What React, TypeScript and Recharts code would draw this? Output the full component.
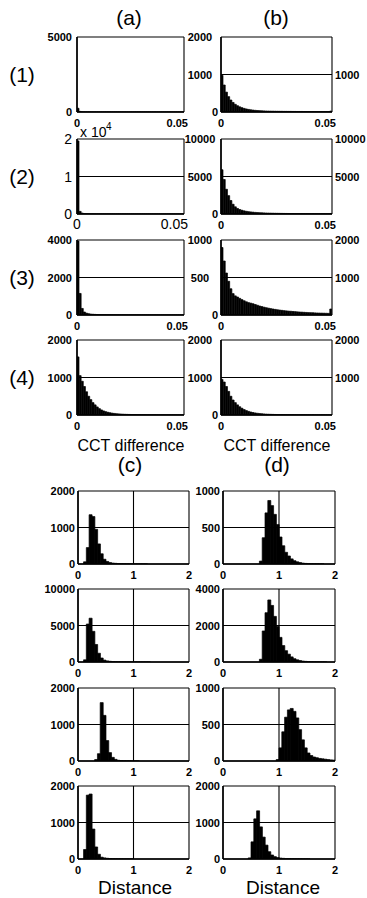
import React from 'react';
import { BarChart, Bar, XAxis, YAxis, CartesianGrid } from 'recharts';

// CCT difference histograms: 50 bins of 0.001 over [0, 0.05]
const cctA1 = [250, 40, 12, 6, 4, 3, 3, 2, 2, 2, 2, 2, 1, 1, 1, 1, 1, 1, 1, 1, 1, 1, 1, 1, 1, 1, 1, 1, 1, 1, 1, 1, 1, 1, 1, 1, 1, 1, 1, 1, 1, 1, 1, 1, 1, 1, 1, 1, 1, 1];
const cctA2 = [19500, 700, 250, 120, 80, 60, 45, 35, 30, 25, 22, 20, 18, 16, 15, 14, 13, 12, 11, 10, 10, 10, 9, 9, 9, 9, 8, 8, 8, 8, 8, 7, 7, 7, 7, 7, 7, 6, 6, 6, 6, 6, 6, 6, 6, 5, 5, 5, 5, 10];
const cctA3 = [3950, 1150, 350, 160, 100, 70, 50, 40, 32, 26, 22, 19, 17, 15, 13, 12, 11, 10, 9, 9, 8, 8, 7, 7, 7, 6, 6, 6, 6, 5, 5, 5, 5, 5, 5, 4, 4, 4, 4, 4, 4, 4, 3, 3, 3, 3, 3, 3, 3, 6];
const cctA4 = [1550, 1050, 900, 760, 620, 500, 410, 330, 270, 215, 170, 135, 108, 88, 72, 60, 50, 42, 35, 30, 26, 22, 19, 17, 15, 13, 12, 11, 10, 9, 8, 8, 7, 7, 6, 6, 6, 5, 5, 5, 5, 4, 4, 4, 4, 4, 3, 3, 3, 3];
const cctB1 = [980, 720, 530, 410, 320, 255, 205, 168, 138, 115, 96, 81, 69, 59, 51, 45, 40, 36, 32, 29, 27, 25, 23, 22, 21, 20, 19, 18, 17, 17, 16, 16, 15, 15, 14, 14, 14, 13, 13, 13, 12, 12, 12, 12, 11, 11, 11, 11, 11, 25];
const cctB2 = [5900, 4600, 3300, 2450, 1800, 1300, 960, 740, 600, 500, 420, 360, 310, 275, 245, 215, 195, 175, 160, 145, 135, 125, 115, 105, 98, 92, 86, 80, 76, 72, 68, 65, 62, 59, 56, 54, 52, 50, 48, 46, 44, 42, 41, 40, 39, 38, 37, 36, 35, 70];
const cctB3 = [900, 720, 560, 450, 350, 285, 255, 240, 222, 205, 190, 176, 165, 158, 150, 140, 130, 120, 112, 104, 97, 91, 85, 80, 75, 70, 66, 62, 58, 55, 52, 50, 47, 45, 42, 40, 38, 36, 34, 32, 31, 30, 28, 27, 26, 25, 24, 23, 22, 80];
const cctB4 = [950, 880, 760, 630, 500, 400, 330, 270, 220, 180, 145, 118, 97, 80, 66, 55, 46, 39, 33, 28, 24, 21, 18, 16, 14, 13, 12, 11, 10, 9, 9, 8, 8, 7, 7, 6, 6, 6, 5, 5, 5, 5, 4, 4, 4, 4, 3, 3, 3, 3];

// Distance histograms: 40 bins of 0.05 over [0, 2]
const distC1 = [0, 0, 60, 450, 1350, 1300, 950, 550, 280, 130, 70, 40, 25, 18, 12, 8, 6, 4, 3, 2, 2, 1, 1, 1, 1, 0, 0, 0, 0, 0, 0, 0, 0, 0, 0, 0, 0, 0, 0, 0];
const distC2 = [0, 0, 300, 5200, 6000, 4200, 2400, 1200, 550, 260, 150, 95, 60, 40, 28, 20, 14, 10, 7, 5, 4, 3, 2, 2, 1, 1, 0, 0, 0, 0, 0, 0, 0, 0, 0, 0, 0, 0, 0, 0];
const distC3 = [0, 0, 0, 0, 0, 0, 40, 200, 1600, 1250, 560, 230, 100, 45, 20, 10, 6, 4, 3, 2, 1, 1, 0, 0, 0, 0, 0, 0, 0, 0, 0, 0, 0, 0, 0, 0, 0, 0, 0, 0];
const distC4 = [0, 0, 260, 1750, 1780, 820, 330, 130, 50, 30, 20, 12, 8, 6, 4, 3, 2, 2, 1, 1, 0, 0, 0, 0, 0, 0, 0, 0, 0, 0, 0, 0, 0, 0, 0, 0, 0, 0, 0, 0];
const distD1 = [0, 0, 0, 0, 0, 0, 0, 0, 0, 0, 0, 0, 0, 40, 360, 700, 870, 800, 680, 540, 370, 250, 160, 110, 70, 45, 30, 20, 12, 8, 5, 3, 2, 2, 1, 1, 0, 0, 0, 0];
const distD2 = [0, 0, 0, 0, 0, 0, 0, 0, 0, 0, 0, 0, 0, 150, 1700, 2700, 3400, 3100, 2500, 1950, 1350, 900, 620, 430, 280, 180, 120, 80, 50, 35, 20, 12, 8, 5, 3, 2, 1, 0, 0, 0];
const distD3 = [0, 0, 0, 0, 0, 0, 0, 0, 0, 0, 0, 0, 0, 0, 0, 0, 0, 0, 0, 20, 180, 400, 600, 700, 720, 680, 590, 430, 290, 180, 110, 75, 55, 45, 35, 30, 25, 20, 15, 12];
const distD4 = [0, 0, 0, 0, 0, 0, 0, 0, 0, 30, 470, 1100, 1320, 880, 600, 380, 200, 110, 65, 40, 25, 18, 12, 10, 7, 5, 4, 3, 2, 2, 1, 0, 0, 0, 0, 0, 0, 0, 0, 0];

const CCT_BIN = 0.001;
const DIST_BIN = 0.05;

const cctXTicks = [0, 0.05];
const cctXLabels = ['0', '0.05'];
const distXTicks = [0, 1, 2];
const distXLabels = ['0', '1', '2'];

const yTicksA = [[0, 5000], [0, 10000, 20000], [0, 2000, 4000], [0, 1000, 2000]];
const a2YLabels = ['0', '1', '2']; // x 10^4
const yTicksB = [[0, 1000, 2000], [0, 5000, 10000], [0, 500, 1000], [0, 1000, 2000]];
const rightMaxB = [2000, 10000, 2000, 2000];
const rightTicksB = [[1000], [5000, 10000], [1000, 2000], [1000, 2000]];
const yTicksC = [[0, 1000, 2000], [0, 5000, 10000], [0, 1000, 2000], [0, 1000, 2000]];
const yTicksD = [[0, 500, 1000], [0, 2000, 4000], [0, 500, 1000], [0, 1000, 2000]];

const columnTitles = ['(a)', '(b)', '(c)', '(d)'];
const rowTitles = ['(1)', '(2)', '(3)', '(4)'];
const xTitles = ['CCT difference', 'Distance'];

const FONT = '"Liberation Sans", Arial, Helvetica, sans-serif';
const boldTick = { size: 11, weight: 700 };
const plainTick = { size: 14, weight: 400 };

// margins around every plot box (labels live in here)
const ML = 45, MR = 36, MT = 10, MB = 24;

const label = (x: number, y: number, text: string, anchor: string, st: { size: number; weight: number }) => (
  <text x={x} y={y} textAnchor={anchor} dominantBaseline="central" fontFamily={FONT} fontSize={st.size} fontWeight={st.weight} fill="#000">
    {text}
  </text>
);

type HistProps = {
  left: number; top: number; width: number; height: number;
  counts: number[]; bin: number; xMax: number; xTicks: number[]; xLabels: string[];
  yMax: number; yTicks: number[]; yLabels?: string[]; split?: boolean; yGap: number;
  rightMax?: number; rightTicks?: number[]; large?: boolean; lastXEnd?: boolean;
};

function Hist(p: HistProps) {
  const rows = p.counts.map((c, i) => ({ x: (i + 0.5) * p.bin, count: c }));
  const st = p.large ? plainTick : boldTick;

  const xTick = (props: any) => {
    const { x, y, payload } = props;
    const i = p.xTicks.indexOf(payload.value);
    const last = p.lastXEnd && i === p.xTicks.length - 1;
    return label(last ? x + 4 : x, y + (p.large ? 10 : 11), p.xLabels[i] ?? String(payload.value), last ? 'end' : 'middle', st);
  };
  const yTick = (props: any) => {
    const { x, y, payload } = props;
    const i = p.yTicks.indexOf(payload.value);
    const text = p.yLabels ? p.yLabels[i] : String(payload.value);
    if (p.split && payload.value !== 0) return label(x - 21, y, text, 'middle', st);
    return label(x - p.yGap, y, text, 'end', st);
  };
  const rTick = (props: any) => label(props.x + 3, props.y, String(props.payload.value), 'start', boldTick);

  // axes get a 1px footprint (a zero-size axis is not drawn), taken back from the margins
  return (
    <div style={{ position: 'absolute', left: p.left - ML, top: p.top - MT }}>
      <BarChart
        width={p.width + ML + MR}
        height={p.height + MT + MB}
        data={rows}
        margin={{ top: MT, right: MR - (p.rightMax ? 1 : 0), bottom: MB - 1, left: ML - 1 }}
        barCategoryGap={0}
        barGap={0}
      >
        <CartesianGrid stroke="#000" strokeWidth={1.1} />
        <XAxis dataKey="x" type="number" domain={[0, p.xMax]} ticks={p.xTicks} interval={0} allowDataOverflow
          height={1} tickSize={0} tickMargin={0} tickLine={false} axisLine={{ stroke: '#000', strokeWidth: 1.5 }} tick={xTick} />
        <YAxis type="number" domain={[0, p.yMax]} ticks={p.yTicks} interval={0} allowDataOverflow
          width={1} tickSize={0} tickMargin={0} tickLine={false} axisLine={{ stroke: '#000', strokeWidth: 1.5 }} tick={yTick} />
        {p.rightMax && (
          <YAxis yAxisId="r" orientation="right" type="number" domain={[0, p.rightMax]} ticks={p.rightTicks} interval={0} allowDataOverflow
            width={1} tickSize={0} tickMargin={0} tickLine={false} axisLine={false} tick={rTick} />
        )}
        <Bar dataKey="count" fill="#000" stroke="#000" strokeWidth={0.7} isAnimationActive={false} />
      </BarChart>
    </div>
  );
}

const topY = [37, 139, 240, 340];
const TOP_H = 75;
const botY = [491, 589, 688, 786];
const BOT_H = 73;

const cctA = [cctA1, cctA2, cctA3, cctA4];
const cctB = [cctB1, cctB2, cctB3, cctB4];
const distC = [distC1, distC2, distC3, distC4];
const distD = [distD1, distD2, distD3, distD4];

export default function App() {
  const panels: HistProps[] = [];
  for (let r = 0; r < 4; r++) {
    const aT = yTicksA[r];
    panels.push({
      left: 77, top: topY[r], width: 107, height: TOP_H, counts: cctA[r], bin: CCT_BIN, xMax: 0.05,
      xTicks: cctXTicks, xLabels: cctXLabels, yMax: aT[aT.length - 1], yTicks: aT, yGap: 5,
      yLabels: r === 1 ? a2YLabels : undefined, large: r === 1, lastXEnd: true,
    });
    const bT = yTicksB[r];
    panels.push({
      left: 221, top: topY[r], width: 111, height: TOP_H, counts: cctB[r], bin: CCT_BIN, xMax: 0.05,
      xTicks: cctXTicks, xLabels: cctXLabels, yMax: bT[bT.length - 1], yTicks: bT, yGap: 3, split: true,
      rightMax: rightMaxB[r], rightTicks: rightTicksB[r], lastXEnd: true,
    });
    const cT = yTicksC[r];
    panels.push({
      left: 78, top: botY[r], width: 111, height: BOT_H, counts: distC[r], bin: DIST_BIN, xMax: 2,
      xTicks: distXTicks, xLabels: distXLabels, yMax: cT[cT.length - 1], yTicks: cT, yGap: 3,
    });
    const dT = yTicksD[r];
    panels.push({
      left: 223, top: botY[r], width: 112, height: BOT_H, counts: distD[r], bin: DIST_BIN, xMax: 2,
      xTicks: distXTicks, xLabels: distXLabels, yMax: dT[dT.length - 1], yTicks: dT, yGap: 3,
    });
  }

  const big = { fontFamily: FONT, fill: '#000' };
  return (
    <div style={{ position: 'absolute', left: 0, top: 0, width: 367, height: 898, background: '#fff', overflow: 'hidden' }}>
      {panels.map((p, i) => <Hist key={i} {...p} />)}
      <svg width={367} height={898} style={{ position: 'absolute', left: 0, top: 0, pointerEvents: 'none' }}>
        <g {...big} fontSize={21} textAnchor="middle" dominantBaseline="central">
          <text x={129} y={17}>{columnTitles[0]}</text>
          <text x={276} y={17}>{columnTitles[1]}</text>
          <text x={130} y={464}>{columnTitles[2]}</text>
          <text x={277} y={464}>{columnTitles[3]}</text>
          {rowTitles.map((t, r) => (
            <text key={t} x={22} y={topY[r] + TOP_H / 2}>{t}</text>
          ))}
        </g>
        <g {...big} fontSize={16} textAnchor="middle" dominantBaseline="central">
          <text x={131} y={445}>{xTitles[0]}</text>
          <text x={277} y={445}>{xTitles[0]}</text>
        </g>
        <g {...big} fontSize={19} textAnchor="middle" dominantBaseline="central">
          <text x={135} y={887}>{xTitles[1]}</text>
          <text x={283} y={887}>{xTitles[1]}</text>
        </g>
        <g {...big}>
          <text x={80} y={137} fontSize={14}>x 10</text>
          <text x={106} y={130} fontSize={10}>4</text>
        </g>
      </svg>
    </div>
  );
}
